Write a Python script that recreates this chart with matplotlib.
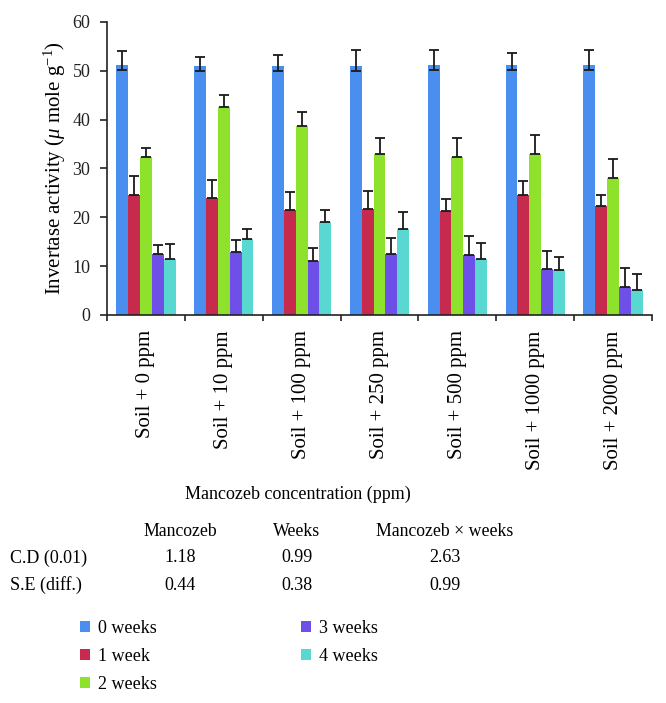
import matplotlib
matplotlib.use("Agg")
import matplotlib.pyplot as plt
import numpy as np

categories = ["Soil + 0 ppm", "Soil + 10 ppm", "Soil + 100 ppm", "Soil + 250 ppm",
              "Soil + 500 ppm", "Soil + 1000 ppm", "Soil + 2000 ppm"]
series_names = ["0 weeks", "1 week", "2 weeks", "3 weeks", "4 weeks"]
week0 = [51.1, 50.9, 50.9, 50.9, 51.1, 51.1, 51.1]
week1 = [24.5, 24.0, 21.4, 21.8, 21.2, 24.5, 22.3]
week2 = [32.3, 42.5, 38.7, 33.0, 32.3, 33.0, 28.0]
week3 = [12.4, 13.0, 11.1, 12.4, 12.3, 9.4, 5.8]
week4 = [11.5, 15.6, 19.1, 17.7, 11.5, 9.2, 5.1]
err0 = [3.0, 2.0, 2.4, 3.3, 3.1, 2.5, 3.1]
err1 = [3.9, 3.7, 3.8, 3.6, 2.6, 2.9, 2.2]
err2 = [2.0, 2.5, 2.9, 3.3, 3.9, 3.8, 3.9]
err3 = [2.0, 2.4, 2.7, 3.3, 3.9, 3.8, 3.9]
err4 = [3.1, 2.1, 2.3, 3.3, 3.2, 2.6, 3.2]
err0_low = [1.0, 0.9, 0.9, 0.9, 1.0, 1.0, 1.0]
yticks = [0, 10, 20, 30, 40, 50, 60]

table_cols = ["Mancozeb", "Weeks", "Mancozeb \u00d7 weeks"]
table_rows = ["C.D (0.01)", "S.E (diff.)"]
cd_vals = ["1.18", "0.99", "2.63"]
se_vals = ["0.44", "0.38", "0.99"]

colors = ["#4a8ff0", "#c62a4c", "#8fe22c", "#6e4fe8", "#58d8d0"]

plt.rcParams["font.family"] = ["Liberation Serif", "DejaVu Serif"]
plt.rcParams["mathtext.fontset"] = "custom"
plt.rcParams["mathtext.rm"] = "Liberation Serif"
plt.rcParams["mathtext.it"] = "Liberation Serif:italic"

W, H = 666, 703
fig = plt.figure(figsize=(W / 100, H / 100), dpi=100)
ax = fig.add_axes([107 / W, 1 - 315 / H, (652 - 107) / W, (315 - 22) / H])

values = [week0, week1, week2, week3, week4]
errs = [err0, err1, err2, err3, err4]
x = np.arange(len(categories))
bw = 0.152
for i, (vals, e) in enumerate(zip(values, errs)):
    low = err0_low if i == 0 else [0] * len(vals)
    ax.bar(x + (i - 2) * bw, vals, bw, color=colors[i], label=series_names[i],
           zorder=2)
    ax.errorbar(x + (i - 2) * bw, vals, yerr=[low, e], fmt="none",
                ecolor="#1a1a1a", elinewidth=1.3, capsize=3.8, capthick=1.3,
                zorder=3)

ax.set_xlim(-0.5, len(categories) - 0.5)
ax.set_ylim(0, 60)
ax.set_yticks(yticks)
ax.spines["top"].set_visible(False)
ax.spines["right"].set_visible(False)
for s in ["left", "bottom"]:
    ax.spines[s].set_linewidth(1.2)
    ax.spines[s].set_color("#222222")
ax.tick_params(axis="y", direction="out", length=5, width=1.2, pad=7,
               labelsize=13, colors="#222222")
ax.set_xticks(np.arange(-0.5, len(categories), 1.0))
ax.set_xticklabels([])
ax.tick_params(axis="x", which="major", direction="out", length=4, width=1.2,
               colors="#222222")
ax.set_xticks(x, minor=True)
ax.set_xticklabels(categories, minor=True, rotation=90, fontsize=15,
                   va="top", ha="center")
ax.tick_params(axis="x", which="minor", length=0, pad=11)
ax.set_ylabel(r"Invertase activity ($\mu$ mole g$^{-1}$)", fontsize=15,
              labelpad=3)

fig.text(298 / W, 1 - 494 / H, "Mancozeb concentration (ppm)", fontsize=13,
         ha="center", va="center")

col_x = [180, 297, 445]
for cx, t in zip(col_x, table_cols):
    fig.text(cx / W, 1 - 532 / H, t, fontsize=12.8, ha="center", va="center")
for ry, lab, vals in zip([558, 585], table_rows, [cd_vals, se_vals]):
    fig.text(10 / W, 1 - ry / H, lab, fontsize=13, ha="left", va="center")
    for cx, v in zip(col_x, vals):
        fig.text(cx / W, 1 - ry / H, v, fontsize=13, ha="center", va="center")

handles, labels = ax.get_legend_handles_labels()
fig.legend(handles, labels, ncol=2, loc="upper left",
           bbox_to_anchor=(80 / W, 1 - 620 / H), frameon=False, fontsize=13,
           handlelength=0.55, handleheight=0.55, handletextpad=0.45,
           columnspacing=8.0, labelspacing=0.6, borderaxespad=0, borderpad=0)

fig.savefig("out.png", dpi=100)
